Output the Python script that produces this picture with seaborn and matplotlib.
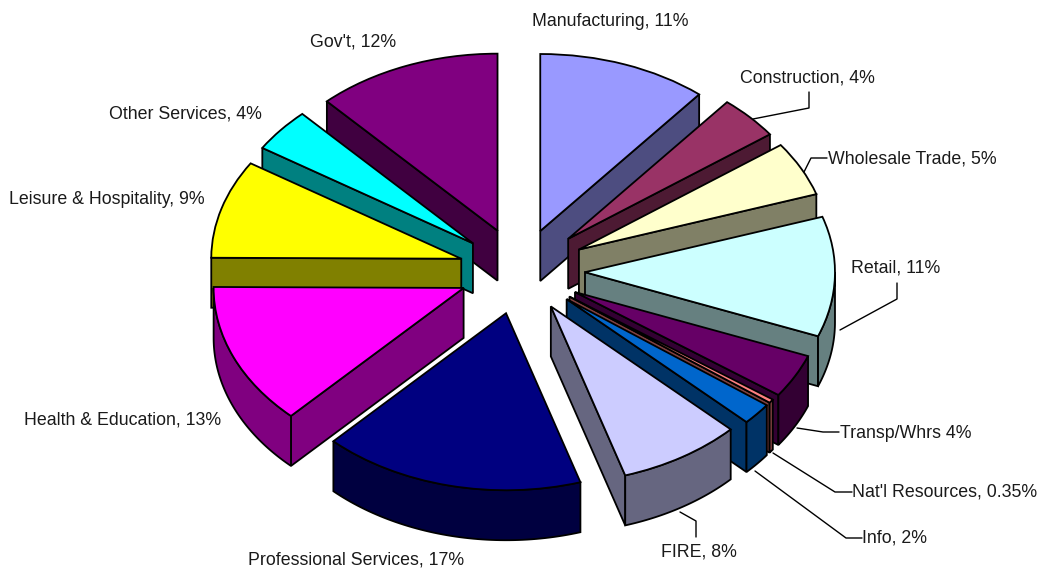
import numpy as np
import matplotlib
matplotlib.use("Agg")
import matplotlib.pyplot as plt
from matplotlib.patches import Polygon
import seaborn as sns

# Values as printed on the chart, clockwise from the top
sectors = ["Manufacturing", "Construction", "Wholesale Trade", "Retail", "Transp/Whrs",
           "Nat'l Resources", "Info", "FIRE", "Professional Services",
           "Health & Education", "Leisure & Hospitality", "Other Services", "Gov't"]
shares = [11, 4, 5, 11, 4, 0.35, 2, 8, 17, 13, 9, 4, 12]
share_labels = ["Manufacturing, 11%", "Construction, 4%", "Wholesale Trade, 5%", "Retail, 11%",
                "Transp/Whrs 4%", "Nat'l Resources, 0.35%", "Info, 2%", "FIRE, 8%",
                "Professional Services, 17%", "Health & Education, 13%",
                "Leisure & Hospitality, 9%", "Other Services, 4%", "Gov't, 12%"]
colors = ["#9999FF", "#993366", "#FFFFCC", "#CCFFFF", "#660066", "#FF8080", "#0066CC",
          "#CCCCFF", "#000080", "#FF00FF", "#FFFF00", "#00FFFF", "#800080"]

# Layout in reference pixels
W, H = 1039, 569
CX, CY = 520, 271
RX, RY = 250, 177
DEPTH = 50 / RY
explode = [0.24, 0.265, 0.265, 0.26, 0.25, 0.245, 0.245, 0.235, 0.245, 0.245, 0.245, 0.245, 0.245]
label_pos = [(532, 21), (740, 78), (828, 159), (851, 268), (840, 433), (852, 492), (862, 538),
             (661, 552), (248, 560), (24, 420), (9, 199), (109, 114), (310, 42)]
leaders = [
    [(809, 92), (809, 108), (753, 119)],
    [(827, 158), (811, 158), (804, 172)],
    [(897, 283), (897, 299), (840, 330)],
    [(839, 432), (823, 432), (797, 428)],
    [(852, 492), (835, 492), (773, 453)],
    [(862, 538), (846, 538), (755, 471)],
    [(696, 537), (696, 521), (680, 512)],
]

sns.set_theme(style="white")
plt.rcParams["font.family"] = ["Liberation Sans", "DejaVu Sans"]
palette = sns.color_palette(colors)

fig = plt.figure(figsize=(W / 100, H / 100), dpi=100)
ax = fig.add_axes([0, 0, 1, 1])

wedges, _ = ax.pie(shares, colors=palette, startangle=90, counterclock=False,
                   explode=explode, normalize=True,
                   wedgeprops={"edgecolor": "black", "linewidth": 1.3, "joinstyle": "miter"})
ax.set_aspect("auto")
ax.set_xlim(-CX / RX, (W - CX) / RX)
ax.set_ylim(-(H - CY) / RY, CY / RY)
ax.axis("off")


def px(x, y):
    return (x - CX) / RX, (CY - y) / RY


def wall(points, color, z):
    # extrude a top edge straight down into a side face
    points = np.asarray(points)
    lower = points[::-1] - [0, DEPTH]
    ax.add_patch(Polygon(np.vstack([points, lower]), closed=True, facecolor=color,
                         edgecolor="black", linewidth=1.3, zorder=z))


# Back slices first so the front ones paint over them
order = sorted(range(len(wedges)),
               key=lambda i: -np.sin(np.radians((wedges[i].theta1 + wedges[i].theta2) / 2)))
for rank, i in enumerate(order):
    w = wedges[i]
    z = 2 + rank * 3
    side = tuple(c * 0.5 for c in palette[i])
    cx, cy = w.center
    t1, t2 = w.theta1, w.theta2
    for t, normal in ((t1, t1 - 90), (t2, t2 + 90)):
        if np.sin(np.radians(normal)) < -1e-6:
            tip = (cx + w.r * np.cos(np.radians(t)), cy + w.r * np.sin(np.radians(t)))
            wall([(cx, cy), tip], side, z)
    # outer rim only where it faces the viewer
    lo, hi = t1 % 360, t1 % 360 + (t2 - t1)
    for a, b in ((180, 360), (540, 720)):
        s, e = max(lo, a), min(hi, b)
        if e > s:
            th = np.radians(np.linspace(s, e, 60))
            wall(np.column_stack([cx + w.r * np.cos(th), cy + w.r * np.sin(th)]), side, z + 1)
    w.set_zorder(z + 2)

# Data labels
for text, (x, y) in zip(share_labels, label_pos):
    ax.text(*px(x, y), text, ha="left", va="center", fontsize=12.8, color="#1a1a1a", zorder=100)

# Leader lines
for line in leaders:
    xy = np.array([px(x, y) for x, y in line])
    ax.plot(xy[:, 0], xy[:, 1], color="black", linewidth=1.0, zorder=90)

fig.savefig("out.png", dpi=100, facecolor="white")
